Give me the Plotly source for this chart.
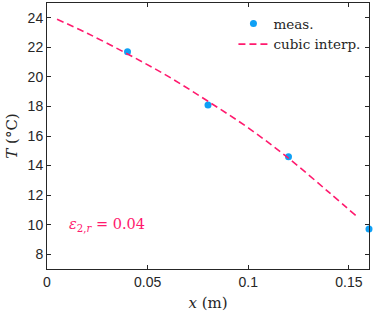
import plotly.graph_objects as go

x_meas = [0.04, 0.08, 0.12, 0.16]
T_meas = [21.7, 18.1, 14.6, 9.7]

x_interp = [0.005, 0.02, 0.04, 0.06, 0.08, 0.10, 0.12, 0.14, 0.154]
T_interp = [23.9, 22.95, 21.55, 20.05, 18.35, 16.55, 14.5, 12.2, 10.55]

x_ticks = [0, 0.05, 0.1, 0.15]
x_tick_labels = ["0", "0.05", "0.1", "0.15"]
y_ticks = [8, 10, 12, 14, 16, 18, 20, 22, 24]

blue = "#0fa0f5"
pink = "#ff1a6e"
axis_col = "#262626"
serif = "DejaVu Serif"

fig = go.Figure()
fig.add_trace(go.Scatter(x=x_meas, y=T_meas, mode="markers", name="meas.",
                         marker=dict(color=blue, size=7), cliponaxis=False))
fig.add_trace(go.Scatter(x=x_interp, y=T_interp, mode="lines", name="cubic interp.",
                         line=dict(color=pink, width=1.6, dash="7px,4px", shape="spline")))

fig.add_annotation(x=0.01, y=10, xref="x", yref="y", xanchor="left", yanchor="middle",
                   text="<i>ε</i><sub>2,<i>r</i></sub> = 0.04", showarrow=False,
                   font=dict(family=serif, size=14.5, color=pink))

axis_common = dict(showgrid=False, zeroline=False, showline=True, linecolor=axis_col,
                   linewidth=1, mirror="ticks", ticks="inside", ticklen=4, automargin=False,
                   tickcolor=axis_col, tickfont=dict(family="Liberation Sans", size=14, color=axis_col))

fig.update_layout(
    width=374, height=314,
    margin=dict(l=47, r=5, t=3, b=45),
    plot_bgcolor="white", paper_bgcolor="white",
    xaxis=dict(range=[0, 0.16], tickvals=x_ticks, ticktext=x_tick_labels,
               title=dict(text="<i>x</i> (m)", standoff=8,
                          font=dict(family=serif, size=15, color=axis_col)),
               **axis_common),
    yaxis=dict(range=[7, 25], tickvals=y_ticks,
               title=dict(text="<i>T</i> (°C)", standoff=6,
                          font=dict(family=serif, size=15, color=axis_col)),
               **axis_common),
    legend=dict(x=0.579, y=0.98, xanchor="left", yanchor="top", bgcolor="rgba(0,0,0,0)",
                font=dict(family=serif, size=13.5, color=axis_col),
                itemwidth=30, tracegroupgap=0),
    showlegend=True,
)

fig.write_html("out.html", config={"displayModeBar": False},
               post_script="document.body.style.margin='0';")
